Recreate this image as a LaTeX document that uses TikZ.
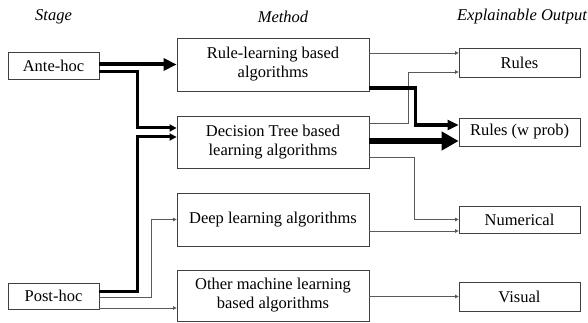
\documentclass[tikz,border=0pt]{standalone}
\usepackage{fontspec}
\setmainfont{Liberation Serif}
\usetikzlibrary{arrows.meta,calc}

\begin{document}
\begin{tikzpicture}[x=1pt,y=-1pt,font=\fontsize{16.5}{19}\selectfont]
			\useasboundingbox (0,0) rectangle (588,323);

			% column headings
			\begin{scope}[every node/.style={font=\fontsize{16.5}{19}\selectfont\itshape}]
				\node (hstage) at (53.5,17) {Stage};
				\node (hmethod) at (283,17) {Method};
				\node (houtput) at (522,17) {Explainable Output};
			\end{scope}

			\begin{scope}[every node/.style={draw=black!75,line width=0.8pt,inner sep=0pt,align=center}]
				\node[minimum width=91pt,minimum height=27pt] (ante) at (53.5,65.5) {Ante-hoc};
				\node[minimum width=91pt,minimum height=26pt] (post) at (53.5,296) {Post-hoc};

				\node[minimum width=192pt,minimum height=53pt] (rule) at (273,64.5) {Rule-learning based\\algorithms};
				\node[minimum width=192pt,minimum height=52pt] (dt) at (273,142) {Decision Tree based\\learning algorithms};
				\node[minimum width=192pt,minimum height=53pt] (deep) at (273,219.5) {Deep learning algorithms};
				\node[minimum width=192pt,minimum height=51pt] (other) at (273,295.5) {Other machine learning\\based algorithms};

				\node[minimum width=121pt,minimum height=29pt] (rules) at (519.5,62.5) {Rules};
				\node[minimum width=121pt,minimum height=28pt] (rprob) at (519.5,132) {Rules (w prob)};
				\node[minimum width=121pt,minimum height=27pt] (num) at (519.5,219.5) {Numerical};
				\node[minimum width=121pt,minimum height=29pt] (visual) at (519.5,296.5) {Visual};
			\end{scope}

			% thin links
			\begin{scope}[draw=black!65,line width=0.8pt,-{Triangle[length=3.5pt,width=3.5pt]}]
				\draw ([yshift=-1pt]post.east) -- ++(52,0) |- (deep.west);
				\draw ([yshift=-12pt]post.east) -- ([yshift=-12pt]post.east -| other.west);
				\draw ([yshift=11.5pt]rule.east) -- ([yshift=11.5pt]rule.east -| rules.west);
				\draw ([yshift=19pt]dt.east) -- ++(39,0) |- ([yshift=-9.5pt]rules.west);
				\draw ([yshift=-15pt]dt.east) -- ++(45,0) |- (num.west);
				\draw ([yshift=-11.5pt]deep.east) -- ([yshift=-11.5pt]deep.east -| num.west);
				\draw (other.east |- visual.west) -- (visual.west);
			\end{scope}

			% thick links
			\begin{scope}[draw=black]
				\draw[line width=4pt,-{Triangle[length=13pt,width=12pt]}] (ante.east |- rule.west) -- (rule.west);
				\draw[line width=3pt,-{Triangle[length=7pt,width=7pt]}] ([yshift=-6.5pt]ante.east) -- ++(38,0) |- ([yshift=14pt]dt.west);
				\draw[line width=3pt,-{Triangle[length=7pt,width=7pt]}] ([yshift=5pt]post.east) -- ++(38,0) |- ([yshift=5pt]dt.west);
				\draw[line width=3.3pt,-{Triangle[length=11pt,width=10pt]}] ([yshift=-23.5pt]rule.east) -- ++(46,0) |- ([yshift=7pt]rprob.west);
				\draw[line width=6pt,-{Triangle[length=17pt,width=18pt]}] ([yshift=1pt]dt.east) -- ([yshift=1pt]dt.east -| rprob.west);
				%\draw (deep.east) -- (num.west);
			\end{scope}
		\end{tikzpicture}
\end{document}
